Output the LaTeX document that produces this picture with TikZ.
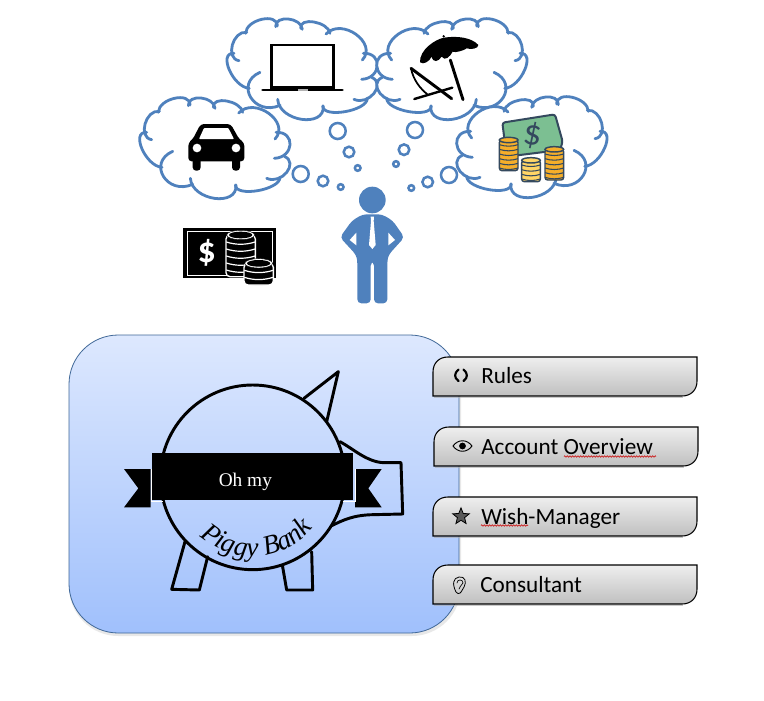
\documentclass[tikz,border=0pt]{standalone}
\usepackage{fontspec}
\setmainfont{Carlito}
\newfontfamily\serifit{Liberation Serif}
\usetikzlibrary{decorations.text,decorations.pathmorphing,shapes.geometric}
\definecolor{cloudblue}{HTML}{4F81BD}
\definecolor{boxtop}{HTML}{DDE8FE}
\definecolor{boxbot}{HTML}{A0C0FC}
\definecolor{coinline}{HTML}{34495E}
\definecolor{coinor}{HTML}{F5AE2A}
\definecolor{coinlt}{HTML}{FFD566}
\definecolor{billgreen}{HTML}{7CBF92}
\tikzset{
  cloudline/.style={draw=cloudblue,line width=2.1pt,line cap=round},
  bubble/.style={draw=cloudblue,line width=1.9pt,fill=white},
  pigline/.style={draw=black,line width=2.2pt,line join=round,line cap=round},
  tabbox/.style={draw=black,line width=.8pt,top color=gray!13,bottom color=gray!50},
  tabtext/.style={anchor=base west,font=\fontsize{17.4}{20}\selectfont,text=black,inner sep=0pt},
  squiggle/.style={draw=red!80!black,line width=.4pt,decorate,decoration={zigzag,amplitude=.6pt,segment length=2pt}},
  iconline/.style={draw=black,line width=.9pt,line cap=round}
}
\def\lobelist{358/265/298/210/312/160,327/182/307/135/350/97,347/100/395/58/442/78,437/80/475/57/517/88,512/85/552/66/600/100,588/102/678/103/697/180,700/160/742/197/695/238,725/232/732/280/672/298,712/295/645/335/578/318,580/318/515/358/443/298,450/316/362/292/390/217}
\newcommand{\cloudshape}{%
  \fill[white] (358,265)--(312,160)--(350,97)--(442,78)--(517,88)--(600,100)--(697,180)--(725,232)--(672,298)--(578,318)--(443,298)--cycle;
  \foreach \ax/\ay/\px/\py/\bx/\by in \lobelist {
    \pgfmathsetmacro\dx{4/3*(\px-(\ax+\bx)/2)}
    \pgfmathsetmacro\dy{4/3*(\py-(\ay+\by)/2)}
    \fill[white] (\ax,\ay) .. controls (\ax+\dx,\ay+\dy) and (\bx+\dx,\by+\dy) .. (\bx,\by) -- cycle;
  }
  \foreach \ax/\ay/\px/\py/\bx/\by in \lobelist {
    \pgfmathsetmacro\dx{4/3*(\px-(\ax+\bx)/2)}
    \pgfmathsetmacro\dy{4/3*(\py-(\ay+\by)/2)}
    \draw[cloudline] (\ax,\ay) .. controls (\ax+\dx,\ay+\dy) and (\bx+\dx,\by+\dy) .. (\bx,\by);
  }
}
\newcommand{\coinstack}[4]{% cx, top, bottom, colour
  \fill[#4,draw=coinline,line width=1.1pt,rounded corners=2pt] (#1-28,#2) -- (#1-28,#3) -- (#1+28,#3) -- (#1+28,#2) -- cycle;
  \pgfmathsetmacro\nn{int((#3-#2)/14)}
  \foreach \ii in {1,...,\nn} {
    \draw[coinline,line width=.8pt] (#1-28,#2+\ii*14) .. controls (#1-10,#2+\ii*14+6) and (#1+10,#2+\ii*14+6) .. (#1+28,#2+\ii*14);
  }
  \fill[#4,draw=coinline,line width=1.1pt] (#1,#2) ellipse [x radius=28,y radius=8];
}
\newcommand{\cashstack}[3]{% cx, top, bottom
  \fill[black,draw=white,line width=1pt,rounded corners=3pt] (#1-44,#2) -- (#1-44,#3) -- (#1+44,#3) -- (#1+44,#2) -- cycle;
  \pgfmathsetmacro\nn{int((#3-#2)/21)}
  \foreach \ii in {1,...,\nn} {
    \draw[white,line width=.9pt] (#1-43,#2+\ii*21) .. controls (#1-15,#2+\ii*21+9) and (#1+15,#2+\ii*21+9) .. (#1+43,#2+\ii*21);
  }
  \draw[black,fill=white,line width=.3pt] (#1,#2) ellipse [x radius=42,y radius=14];
  \fill[black] (#1,#2) ellipse [x radius=35,y radius=10];
}
\begin{document}
\begin{tikzpicture}[x=.75pt,y=-.75pt]
\useasboundingbox (0,0) rectangle (764,700);
\fill[white] (0,0) rectangle (764,700);
% clouds
\begin{scope}[shift={(42.7,79)},x=.25pt,y=-.25pt]\cloudshape\end{scope}
\begin{scope}[shift={(130,0)},x=.25pt,y=-.25pt]\cloudshape\end{scope}
\begin{scope}[shift={(624,0)},x=-.25pt,y=-.25pt]\cloudshape\end{scope}
\begin{scope}[shift={(704,78)},x=-.25pt,y=-.25pt]\cloudshape\end{scope}
% thought bubbles
\foreach \cx/\cy/\rr in {337.7/131/8,349/152/5.3,357.7/168/2.8,300.7/174/8,323/181/5.3,340.7/187/2.8,415/130/8,404/149.7/5.3,396/164/2.8,449/175/8,427.7/182/5.3,411.3/188/2.8}
  \draw[bubble] (\cx,\cy) circle [radius=\rr];
% laptop and car
\begin{scope}[shift={(130,0)},x=.25pt,y=-.25pt]
  \draw[black,line width=1.8pt,fill=white] (425,135) rectangle (610,262);
  \draw[black,line width=2.2pt,line cap=round] (398,270) -- (637,270);
  \fill[gray!60] (503,267) rectangle (533,273);
  % car
  \fill[black,rounded corners=2.5pt] (175,484) -- (175,428) -- (188,418) -- (212,372) -- (302,372) -- (328,418) -- (343,428) -- (343,484) -- cycle;
  \fill[white,rounded corners=.6pt] (207,417) -- (222,384) -- (295,384) -- (312,417) -- cycle;
  \fill[black,rounded corners=2.5pt] (188,470) rectangle (212,512);
  \fill[black,rounded corners=2.5pt] (306,470) rectangle (330,512);
  \fill[white] (201,444) circle [radius=13];
  \fill[white] (318,444) circle [radius=13];
\end{scope}
% beach and money
\begin{scope}[shift={(370,0)},x=.25pt,y=-.25pt]
  \fill[black] (150,187) .. controls (148,150) and (195,118) .. (222,113) .. controls (260,107) and (305,112) .. (325,135) .. controls (325,145) and (305,150) .. (290,145) .. controls (285,150) and (255,160) .. (248,155) .. controls (240,170) and (225,185) .. (215,170) .. controls (205,185) and (190,190) .. (185,170) .. controls (178,185) and (160,195) .. (150,187) -- cycle;
  \fill[black] (221,109) circle [radius=4];
  \draw[black,line width=2.2pt,line cap=round] (241,180) -- (279,299);
  \draw[black,line width=2.2pt,line cap=round] (123,205) -- (245,296);
  \draw[black,line width=1.8pt,line cap=round] (133,297) -- (247,263);
  \draw[black,line width=1.3pt,line cap=round] (123,205) .. controls (130,240) and (150,265) .. (172,283);
  % bill and coins
  \draw[coinline,fill=billgreen,line width=1.5pt,rounded corners=2pt] (397,368) -- (555,343) -- (578,425) -- (570,450) -- (410,470) -- cycle;
  \node[rotate=-8,text=coinline,font=\fontsize{27}{27}\selectfont,inner sep=0pt] (dollarg) at (487,405) {\$};
  \coinstack{416}{420}{512}{coinor}
  \coinstack{553}{448}{540}{coinor}
  \coinstack{483}{481}{545}{coinlt}
\end{scope}
% cash icon and person
\begin{scope}[shift={(170,180)},x=.25pt,y=-.25pt]
  \fill[black] (40,143) rectangle (318,295);
  \draw[white,line width=.7pt] (52,154) rectangle (306,287);
  \node[text=white,font=\bfseries\fontsize{27}{27}\selectfont,inner sep=0pt] (dollarw) at (110,220) {\$};
  \cashstack{212}{165}{290}
  \cashstack{266}{250}{315}
  % person
  \fill[cloudblue] (607,60) circle [radius=40];
  \fill[cloudblue,rounded corners=3pt] (578,103) -- (636,103) -- (668,122) -- (703,172) -- (656,224) -- (652,240) -- (652,370) -- (612,370) -- (612,245) -- (602,245) -- (602,370) -- (562,370) -- (562,240) -- (558,224) -- (510,172) -- (546,122) -- cycle;
  \fill[white] (655,158) -- (675,180) -- (655,196) -- cycle;
  \fill[white] (559,158) -- (539,180) -- (559,196) -- cycle;
  \fill[white] (602,110) -- (612,110) -- (611,123) -- (617,195) -- (607,207) -- (597,195) -- (603,123) -- cycle;
\end{scope}
% main box
\fill[gray!50,opacity=.35,rounded corners=37pt] (69,338) rectangle (461,636);
\shade[top color=boxtop,bottom color=boxbot,draw=cloudblue!80!black,line width=.6pt,rounded corners=37pt] (69,335) rectangle (459,633);
% pig
\begin{scope}[shift={(110,360)},x=.25pt,y=-.25pt]
  \draw[pigline] (582,115) -- (685,35) -- (650,185);
  \draw[pigline] (690,245) .. controls (735,270) and (770,305) .. (820,308) -- (873,308) -- (878,462) -- (790,464) .. controls (730,465) and (700,480) .. (665,497);
  \draw[pigline] (225,545) -- (185,688) -- (268,690) -- (293,590);
  \draw[pigline] (517,615) -- (530,690) -- (608,690) -- (605,575);
  \draw[pigline] (428,352) circle [radius=277];
  \fill[black] (42,327) -- (122,327) -- (122,442) -- (42,442) -- (85,385) -- cycle;
  \fill[black] (735,327) -- (815,327) -- (775,385) -- (815,442) -- (735,442) -- cycle;
  \draw[white,line width=.5pt] (123,327) -- (123,425) -- (160,425);
  \draw[white,line width=.5pt] (735,327) -- (735,425) -- (698,425);
  \fill[black] (127,280) rectangle (730,420);
  \node[text=white,font=\serifit\fontsize{14.5}{14.5}\selectfont,inner sep=0pt] (ohmy) at (406,366) {Oh my};
\end{scope}
\path[decorate,decoration={text along path,text align=center,text={|\serifit\itshape\fontsize{20.5}{20.5}\selectfont|Piggy Bank}}]
  (191.3,527) .. controls (225.8,569.6) and (292,565) .. (320.3,518);
% tabs
\foreach \xa/\ya/\nm in {433/357/a,434/427/b,433/497/c,433/565/d} {
  \shade[tabbox] (\xa,\ya+39) -- (\xa,\ya+15) .. controls (\xa,\ya+6) and (\xa+6,\ya) .. (\xa+15,\ya) -- (\xa+264,\ya) -- (\xa+264,\ya+24) .. controls (\xa+264,\ya+33) and (\xa+258,\ya+39) .. (\xa+249,\ya+39) -- cycle;
  \draw[gray!70,line width=.7pt,opacity=.6] (\xa+1,\ya+40.2) -- (\xa+250,\ya+40.2);
}
\node[tabtext] (rules) at (481,383) {Rules};
\node[tabtext] (account) at (481,454) {Account Overview};
\node[tabtext] (wish) at (481,524) {Wish-Manager};
\node[tabtext] (consult) at (480,592) {Consultant};
\draw[squiggle] (564,456.5) -- (656,456.5);
\draw[squiggle] (481,525.5) -- (528,525.5);
% tab icons
\draw[black,line width=1.6pt,line cap=round] (458.5,369.5) .. controls (454,373) and (454,378) .. (458.5,381);
\draw[black,line width=1.6pt,line cap=round] (463.5,369.5) .. controls (468,373) and (468,378) .. (463.5,381);
\draw[iconline,line width=.7pt] (453,446) .. controls (458,439) and (467,439) .. (472,446) .. controls (467,453) and (458,453) .. (453,446) -- cycle;
\fill[black] (462.5,446) circle [radius=3.4];
\node[star,star points=5,star point ratio=2.3,draw=black,fill=black!65,line width=.6pt,minimum size=13pt,inner sep=0pt] (staricon) at (461,516.5) {};
\draw[iconline,line width=.6pt] (456,592) .. controls (452,584) and (453,578) .. (459,577) .. controls (465,576) and (467,582) .. (464,587) .. controls (462,590) and (461,594) .. (458,593.5) -- (456,592);
\draw[iconline,line width=.5pt] (457,583) .. controls (457,579) and (463,579) .. (463,583) .. controls (462,586) and (459,586) .. (459,589);
\end{tikzpicture}
\end{document}
